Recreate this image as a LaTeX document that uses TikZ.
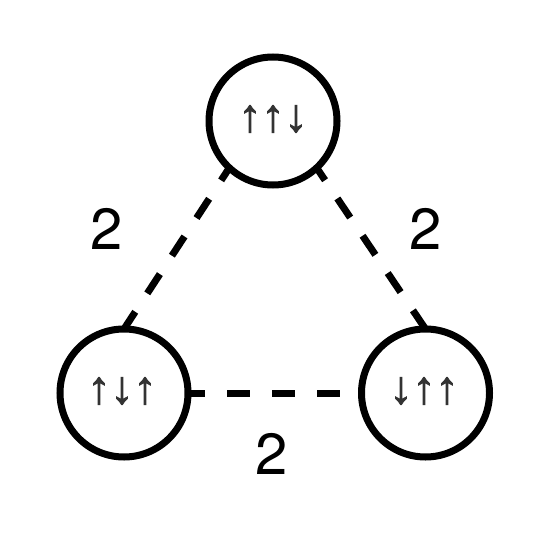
\documentclass[tikz,border=0pt]{standalone}
\usepackage{fontspec}
\setmainfont{TeX Gyre Heros}
\newfontfamily\arrowfont[FakeBold=2]{Liberation Sans}
\definecolor{spin}{HTML}{333333}
\begin{document}
\begin{tikzpicture}[x=1pt,y=-1pt,
  site/.style={circle,draw=black,fill=white,line width=7pt,minimum size=128pt,inner sep=0pt,outer sep=0pt},
  spins/.style={font=\arrowfont\fontsize{46}{48}\selectfont,text=spin,inner sep=0pt},
  bond/.style={line width=7pt,dash pattern=on 23pt off 22pt},
  weight/.style={font=\fontsize{58}{60}\selectfont,inner sep=0pt}]
\useasboundingbox (0,0) rectangle (548,548);
\node[site] (top) at (273,121) {};
\node[site] (left) at (124,393) {};
\node[site] (right) at (425.5,393) {};
\draw[bond,dash phase=8pt] (top.-133) -- (left.north);
\draw[bond,dash phase=8pt] (top.-47) -- (right.north);
\draw[bond,dash phase=6pt] (left.east) -- (right.west);
\node[spins] (stop) at (273,119) {↑↑↓};
\node[spins] (sleft) at (122,391) {↑↓↑};
\node[spins] (sright) at (424,391) {↓↑↑};
\node[weight] (wl) at (107,229) {2};
\node[weight] (wr) at (426,229) {2};
\node[weight] (wb) at (272,454) {2};
\end{tikzpicture}
\end{document}
